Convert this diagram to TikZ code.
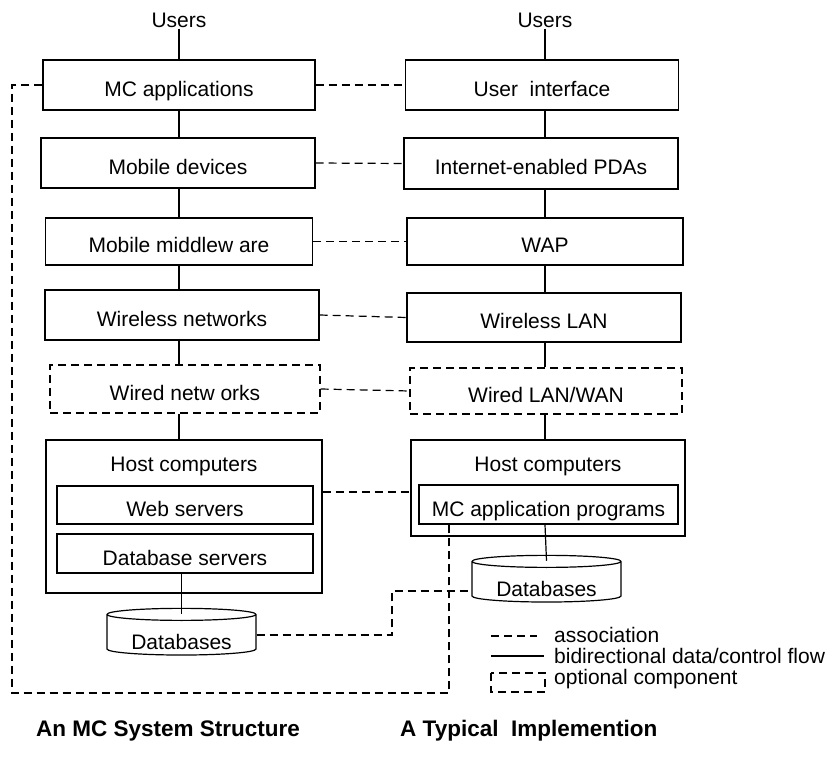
\documentclass[tikz,border=0pt]{standalone}
\usepackage{fontspec}
\setmainfont{Liberation Sans}
\usetikzlibrary{shapes.geometric}
\tikzset{
  txt/.style={font=\fontsize{21}{25}\selectfont, inner sep=1pt},
  box/.style={txt, draw, line width=1.2pt, inner sep=0pt, text height=23pt, text depth=0pt},
  optbox/.style={box, dash pattern=on 8pt off 5pt},
  assoc/.style={line width=1.2pt, dash pattern=on 8pt off 5pt},
  flow/.style={line width=1.2pt},
  dbase/.style={txt, draw, line width=1.2pt, cylinder, shape border rotate=90, aspect=0.12,
    minimum width=149pt, minimum height=46pt, inner sep=0pt, text height=28pt, text depth=0pt},
  title/.style={font=\fontsize{22.5}{27}\selectfont\bfseries, anchor=west, inner sep=0pt}
}
\begin{document}
\begin{tikzpicture}[x=1pt, y=-1pt]
    \useasboundingbox (0,0) rectangle (836,759);

    % left column: the MC system structure
    \node[txt] (lusers) at (179,20) {Users};
    \node[box, minimum width=272pt, minimum height=50pt] (lapp) at (179,85) {MC applications};
    \node[box, minimum width=274pt, minimum height=50pt] (ldev) at (178,163) {Mobile devices};
    \node[box, minimum width=267pt, minimum height=47pt] (lmid) at (179,241.5) {Mobile middlew are};
    \node[box, minimum width=274pt, minimum height=50pt] (lwless) at (182,315) {Wireless networks};
    \node[optbox, minimum width=270pt, minimum height=48pt] (lwired) at (185,389) {Wired netw orks};
        \node[box, minimum width=276pt, minimum height=153pt] (lhost) at (184,516.5) {};
        \node[txt] (lhosttxt) at (184,466) {Host computers};
        \node[box, minimum width=256pt, minimum height=38pt] (lweb) at (185,505) {Web servers};
        \node[box, minimum width=256pt, minimum height=39pt] (ldbs) at (185,553.5) {Database servers};
    \node[dbase] (ldb) at (181.5,635) {Databases};

    % right column: a typical implementation
    \node[txt] (rusers) at (545,20) {Users};
    \node[box, minimum width=273pt, minimum height=50pt] (rui) at (542,85) {User\ \ interface};
    \node[box, minimum width=274pt, minimum height=51pt] (rpda) at (541,163.5) {Internet-enabled PDAs};
    \node[box, minimum width=276pt, minimum height=47pt] (rwap) at (545,241.5) {WAP};
    \node[box, minimum width=274pt, minimum height=49pt] (rwless) at (544,317.5) {Wireless LAN};
    \node[optbox, minimum width=272pt, minimum height=46pt] (rwired) at (546,391) {Wired LAN/WAN};
        \node[box, minimum width=274pt, minimum height=96pt] (rhost) at (548,488) {};
        \node[txt] (rhosttxt) at (548,466) {Host computers};
        \node[box, minimum width=259pt, minimum height=39pt] (rprog) at (548.5,504.5) {MC application programs};
    \node[dbase] (rdb) at (546.5,582) {Databases};

    % data/control flow
    \draw[flow] (lusers) -- (lapp);
    \draw[flow] (lapp) -- (lapp |- ldev.north);
    \draw[flow] (lapp |- ldev.south) -- (lapp |- lmid.north);
    \draw[flow] (lapp |- lmid.south) -- (lapp |- lwless.north);
    \draw[flow] (lapp |- lwless.south) -- (lapp |- lwired.north);
    \draw[flow] (lapp |- lwired.south) -- (lapp |- lhost.north);
    \draw[flow] (ldb.north |- ldbs.south) -- ([yshift=-6pt]ldb.north);

    \draw[flow] (rusers) -- (rusers |- rui.north);
    \draw[flow] (rusers |- rui.south) -- (rusers |- rpda.north);
    \draw[flow] (rusers |- rpda.south) -- (rusers |- rwap.north);
    \draw[flow] (rusers |- rwap.south) -- (rusers |- rwless.north);
    \draw[flow] (rusers |- rwless.south) -- (rusers |- rwired.north);
    \draw[flow] (rusers |- rwired.south) -- (rusers |- rhost.north);
    \draw[flow] (rusers |- rprog.south) -- ([yshift=-6pt]rdb.north);

    % associations
    \draw[assoc] (lapp.east) -- (rui.west);
    \draw[assoc] (ldev.east) -- (rpda.west);
    \draw[assoc] (lmid.east) -- (rwap.west);
    \draw[assoc] (lwless.east) -- (rwless.west);
    \draw[assoc] (lwired.east) -- (rwired.west);
    \draw[assoc] (lhost.east |- 0,492) -- (rhost.west |- 0,492);
    \draw[assoc] (ldb.east) -| (392,591) -- (rdb.west |- 0,591);
    \draw[assoc] (lapp.west) -| (12,693) -| (449,0 |- rprog.south);

    % legend
    \coordinate (assocA) at (491,636);
    \coordinate (assocB) at (537,636);
    \coordinate (flowA) at (491,656);
    \coordinate (flowB) at (544,656);
    \draw[assoc] (assocA) -- (assocB);
    \draw[flow] (flowA) -- (flowB);
    \draw[assoc] (491,673) rectangle (545,692);
    \node[txt, anchor=west] (lgassoc) at (553,635) {association};
    \node[txt, anchor=west] (lgflow) at (553,656) {bidirectional data/control flow};
    \node[txt, anchor=west] (lgopt) at (553,679) {optional component};

    \node[title] (ltitle) at (36,731) {An MC System Structure};
    \node[title] (rtitle) at (400,731) {A Typical\ \ Implemention};
\end{tikzpicture}
\end{document}
